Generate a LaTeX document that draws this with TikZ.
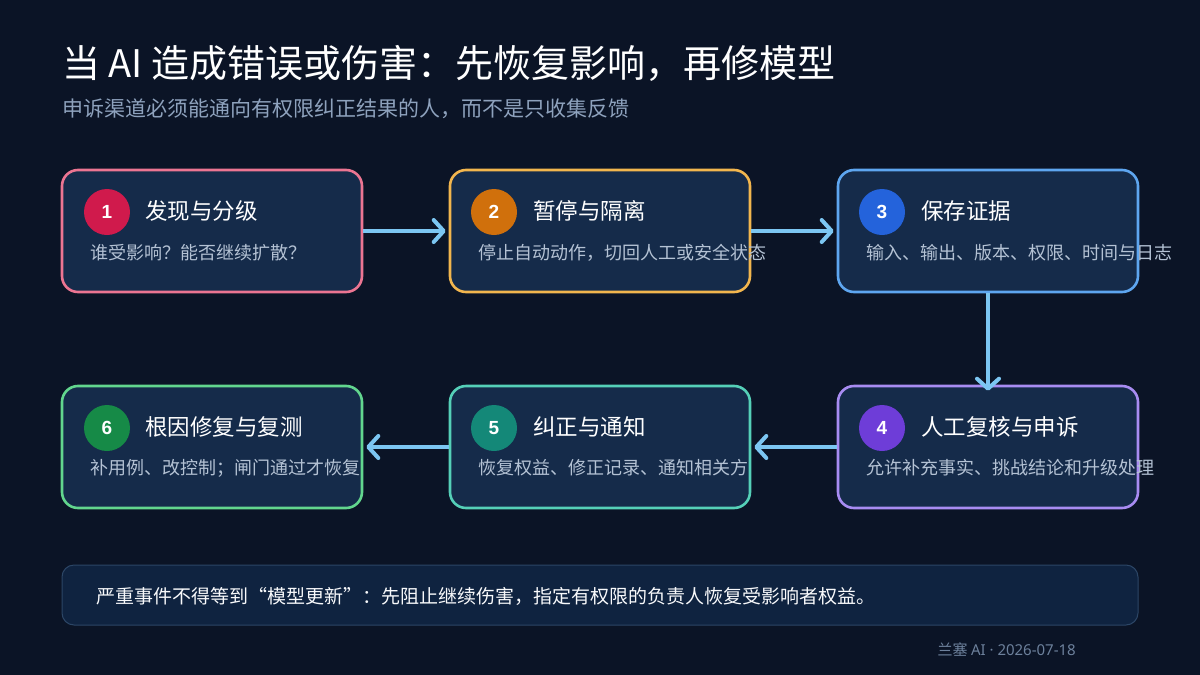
\documentclass[tikz,border=0pt]{standalone}
\usepackage{fontspec}
\setmainfont{Noto Sans CJK SC}
\newfontfamily\numfont{Liberation Sans}
\newfontfamily\latinfont{Noto Sans}
\usetikzlibrary{arrows.meta}
\definecolor{bgc}{HTML}{0B1426}
\definecolor{boxfill}{HTML}{152B4A}
\definecolor{subc}{HTML}{8EA2BD}
\definecolor{descc}{HTML}{B4C2D4}
\definecolor{arrc}{HTML}{7CC6F2}
\definecolor{bA}{HTML}{EC7592}
\definecolor{bB}{HTML}{F2B64E}
\definecolor{bC}{HTML}{5EA6F0}
\definecolor{bD}{HTML}{A88CF2}
\definecolor{bE}{HTML}{55D0B8}
\definecolor{bF}{HTML}{62D68E}
\definecolor{cA}{HTML}{D01A4C}
\definecolor{cB}{HTML}{D0700C}
\definecolor{cC}{HTML}{2463DB}
\definecolor{cD}{HTML}{6E3DD8}
\definecolor{cE}{HTML}{148878}
\definecolor{cF}{HTML}{168A47}
\definecolor{notefill}{HTML}{0F2340}
\definecolor{noteborder}{HTML}{2C4666}
\definecolor{footc}{HTML}{6D819C}
\tikzset{
  stepbox/.style={draw=#1, line width=2.6pt, fill=boxfill, rounded corners=16pt, minimum width=300pt, minimum height=122pt, inner sep=0pt},
  numcirc/.style={circle, fill=#1, minimum size=46pt, inner sep=0pt, text=white, font=\numfont\bfseries\fontsize{19}{19}\selectfont},
  steptitle/.style={anchor=west, text=white, font=\fontsize{22.5}{25}\selectfont, inner sep=0pt},
  stepdesc/.style={anchor=west, text=descc, font=\fontsize{18}{21}\selectfont, inner sep=0pt},
  flow/.style={draw=arrc, line width=4pt, -{Straight Barb[length=10pt,width=22pt,line cap=round,line join=round]}}
}
\begin{document}
\begin{tikzpicture}[x=1pt,y=-1pt]
\fill[bgc] (0,0) rectangle (1200,675);
\useasboundingbox (0,0) rectangle (1200,675);
% title
\node[anchor=base west, inner sep=0pt, text=white, font=\fontsize{38}{40}\selectfont] (title) at (62,77) {当 AI 造成错误或伤害：先恢复影响，再修模型};
\node[anchor=west, inner sep=0pt, text=subc, font=\fontsize{21}{24}\selectfont] (subtitle) at (62,109) {申诉渠道必须能通向有权限纠正结果的人，而不是只收集反馈};
% boxes
\node[stepbox=bA] (b1) at (212,231) {};
\node[stepbox=bB] (b2) at (600,231) {};
\node[stepbox=bC] (b3) at (988,231) {};
\node[stepbox=bD] (b4) at (988,447) {};
\node[stepbox=bE] (b5) at (600,447) {};
\node[stepbox=bF] (b6) at (212,447) {};
% circles
\node[numcirc=cA] (n1) at (107,212) {1};
\node[numcirc=cB] (n2) at (494,212) {2};
\node[numcirc=cC] (n3) at (882,212) {3};
\node[numcirc=cD] (n4) at (882,428) {4};
\node[numcirc=cE] (n5) at (494,428) {5};
\node[numcirc=cF] (n6) at (107,428) {6};
% titles
\node[steptitle] (t1) at (145,211) {发现与分级};
\node[steptitle] (t2) at (533,211) {暂停与隔离};
\node[steptitle] (t3) at (921,211) {保存证据};
\node[steptitle] (t4) at (921,427) {人工复核与申诉};
\node[steptitle] (t5) at (533,427) {纠正与通知};
\node[steptitle] (t6) at (145,427) {根因修复与复测};
% descriptions
\node[stepdesc] (d1) at (90,253) {谁受影响？能否继续扩散？};
\node[stepdesc] (d2) at (478,253) {停止自动动作，切回人工或安全状态};
\node[stepdesc] (d3) at (866,253) {输入、输出、版本、权限、时间与日志};
\node[stepdesc] (d4) at (866,468) {允许补充事实、挑战结论和升级处理};
\node[stepdesc] (d5) at (478,468) {恢复权益、修正记录、通知相关方};
\node[stepdesc] (d6) at (90,468) {补用例、改控制；闸门通过才恢复};
% arrows
\draw[flow] (b1.east) -- ([xshift=-3pt]b2.west);
\draw[flow] (b2.east) -- ([xshift=-3pt]b3.west);
\draw[flow] (b3.south) -- ([yshift=-6pt]b4.north);
\draw[flow] (b4.west) -- ([xshift=3pt]b5.east);
\draw[flow] (b5.west) -- ([xshift=3pt]b6.east);
% note
\node[draw=noteborder, line width=1pt, fill=notefill, rounded corners=12pt, minimum width=1076pt, minimum height=60pt, inner sep=0pt] (note) at (600,595) {};
\node[anchor=west, inner sep=0pt, text=white!90!descc, font=\fontsize{19}{22}\selectfont] (notetext) at (96,596) {严重事件不得等到“模型更新”：先阻止继续伤害，指定有权限的负责人恢复受影响者权益。};
% footer
\node[anchor=east, inner sep=0pt, text=footc, font=\fontsize{15}{17}\selectfont] (footer) at (1076,650) {兰塞 {\latinfont AI · 2026-07-18}};
\end{tikzpicture}
\end{document}
